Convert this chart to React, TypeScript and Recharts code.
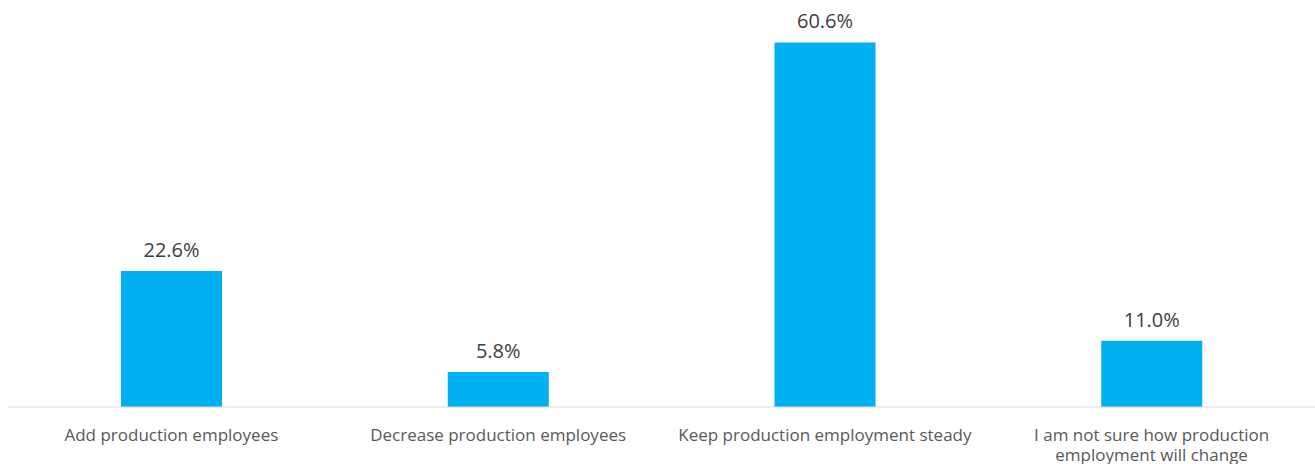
import React from 'react';
import { BarChart, Bar, XAxis, YAxis, LabelList } from 'recharts';

const categories = [
    'Add production employees',
    'Decrease production employees',
    'Keep production employment steady',
    'I am not sure how production\nemployment will change',
];
const shares = [22.6, 5.8, 60.6, 11.0];

const data = categories.map((name, i) => ({ name, value: shares[i] }));

const FONT = '"Open Sans", sans-serif';

const CategoryTick = ({ x, y, payload }: any) => {
    const lines = String(payload.value).split('\n');
    return (
        <text x={x} y={y} textAnchor="middle" fill="#595959" fontSize={17} fontFamily={FONT}>
            {lines.map((line, i) => (
                <tspan key={i} x={x} dy={i === 0 ? 26 : 20}>{line}</tspan>
            ))}
        </text>
    );
};

const App: React.FC = () => {
    return (
        <div style={{ position: 'absolute', left: 0, top: 0, background: '#fff' }}>
            <BarChart
                width={1315}
                height={464}
                data={data}
                margin={{ top: 16, right: 0, bottom: 0, left: 8 }}
            >
                <XAxis
                    dataKey="name"
                    height={57}
                    interval={0}
                    tickLine={false}
                    axisLine={{ stroke: '#d9d9d9', strokeWidth: 1 }}
                    tick={<CategoryTick />}
                />
                <YAxis hide domain={[0, 65]} />
                <Bar dataKey="value" fill="#00b0f0" barSize={101} isAnimationActive={false}>
                    <LabelList
                        dataKey="value"
                        position="top"
                        offset={14}
                        formatter={(v: number) => `${v.toFixed(1)}%`}
                        fill="#404040"
                        fontSize={20}
                        fontFamily={FONT}
                    />
                </Bar>
            </BarChart>
        </div>
    );
};

export default App;
